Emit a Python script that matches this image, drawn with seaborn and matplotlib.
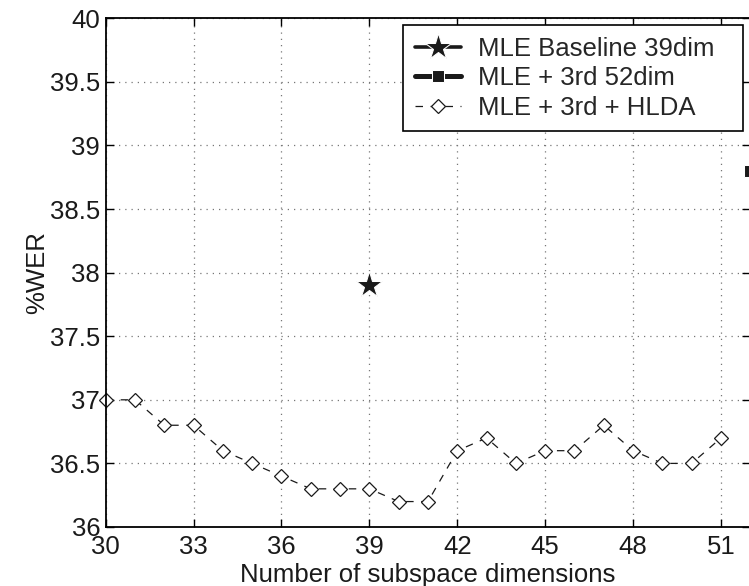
import matplotlib
matplotlib.use("Agg")
import matplotlib.pyplot as plt
import seaborn as sns
import pandas as pd

dims = [30, 31, 32, 33, 34, 35, 36, 37, 38, 39, 40, 41, 42, 43, 44, 45, 46, 47, 48, 49, 50, 51]
hlda_wer = [37.0, 37.0, 36.8, 36.8, 36.6, 36.5, 36.4, 36.3, 36.3, 36.3, 36.2, 36.2,
            36.6, 36.7, 36.5, 36.6, 36.6, 36.8, 36.6, 36.5, 36.5, 36.7]
baseline_dim = [39]
baseline_wer = [37.9]
third_dim = [52]
third_wer = [38.8]
xticks = [30, 33, 36, 39, 42, 45, 48, 51]
yticks = [36, 36.5, 37, 37.5, 38, 38.5, 39, 39.5, 40]

sns.set_style("ticks")
plt.rcParams['font.family'] = ['Liberation Sans', 'DejaVu Sans']

FS = 18.5
fig = plt.figure(figsize=(7.49, 5.86), dpi=100)
ax = fig.add_axes([0.1411, 0.1007, 1.0017 - 0.1411, 0.9688 - 0.1007])

df_b = pd.DataFrame({"x": baseline_dim, "y": baseline_wer})
df_t = pd.DataFrame({"x": third_dim, "y": third_wer})
df_h = pd.DataFrame({"x": dims, "y": hlda_wer})

sns.lineplot(data=df_b, x="x", y="y", ax=ax, color="#1a1a1a", marker="*", markersize=20,
             linewidth=2.6, label="MLE Baseline 39dim")
sns.lineplot(data=df_t, x="x", y="y", ax=ax, color="#1a1a1a", marker="s", markersize=8,
             linewidth=3.6, label="MLE + 3rd 52dim")
sns.lineplot(data=df_h, x="x", y="y", ax=ax, color="#1a1a1a", marker="D", markersize=7,
             markerfacecolor="white", markeredgecolor="#1a1a1a", markeredgewidth=0.9,
             linewidth=0.9, linestyle=(0, (6, 6)), label="MLE + 3rd + HLDA", clip_on=False)

ax.set_xlim(30, 52)
ax.set_ylim(36, 40)
ax.set_xticks(xticks)
ax.set_yticks(yticks)
ax.set_yticklabels([f"{v:g}" for v in yticks])
ax.grid(True, linestyle=(0, (1, 4)), color="#777777", linewidth=0.9)
for s in ax.spines.values():
    s.set_visible(True)
    s.set_linewidth(1.3)
    s.set_color("black")
ax.tick_params(direction="in", top=True, right=True, length=6, width=1.0,
               labelsize=FS, colors="black", labelcolor="#1a1a1a")
ax.tick_params(axis="x", pad=6)
ax.tick_params(axis="y", pad=4)
ax.set_xlabel("Number of subspace dimensions", fontsize=FS, color="#1a1a1a", labelpad=3)
ax.set_ylabel("%WER", fontsize=FS, color="#1a1a1a", labelpad=0.5)

leg = ax.legend(loc="upper left", bbox_to_anchor=(0.4612, 0.5, 0.5276, 0.4868), mode="expand",
                fontsize=FS, frameon=True, fancybox=False, edgecolor="black", framealpha=1,
                borderpad=0.45, labelspacing=0.22, handlelength=1.8, handletextpad=0.66,
                borderaxespad=0)
leg.get_frame().set_linewidth(1.2)

fig.savefig("out.png", dpi=100)
